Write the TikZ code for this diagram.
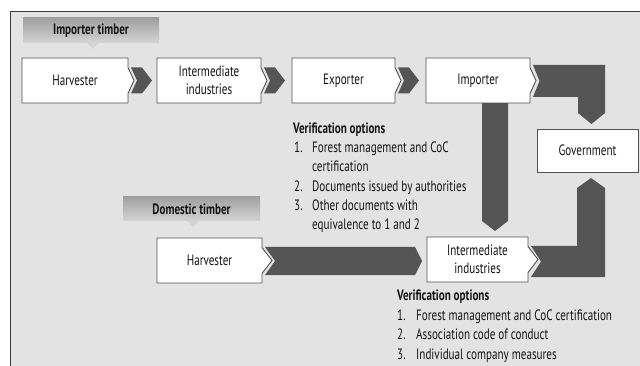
\documentclass[tikz,border=0pt]{standalone}
\usepackage{fontspec}
\setmainfont{PT Sans}[FakeStretch=0.74]
\definecolor{panel}{RGB}{227,227,227}
\definecolor{arrowc}{RGB}{85,85,85}
\definecolor{boxline}{RGB}{80,80,80}
\definecolor{framec}{RGB}{60,60,60}
\definecolor{labtop}{RGB}{160,160,160}
\definecolor{labbot}{RGB}{212,212,212}
\tikzset{
  boxst/.style={fill=white, draw=boxline, line width=0.9pt, line join=miter},
  arr/.style={fill=arrowc, draw=none},
  txt/.style={inner sep=0pt, font=\fontsize{15}{18}\selectfont, align=center, text=black!92},
  btxt/.style={txt, font=\fontsize{15}{18}\selectfont\bfseries},
  ltxt/.style={inner sep=0pt, anchor=west, font=\fontsize{15}{18}\selectfont, text=black!92, text height=10.5pt, text depth=3pt},
  lbtxt/.style={ltxt, font=\fontsize{15}{18}\selectfont\bfseries},
}
\newcommand\ptbox[8]{% name, x1, y1, x2, y2, d, h, text
  \pgfmathsetmacro\ym{(#3+#5)/2}
  \filldraw[boxst] (#2,#3) -- (#4,#3) -- (#4,\ym-#7) -- (#4+#6,\ym) -- (#4,\ym+#7) -- (#4,#5) -- (#2,#5) -- cycle;
  \node[txt] (#1) at ({(#2+#4)/2},\ym) {#8};
}
\newcommand\chev[3]{% x-left, ytop, ybot
  \pgfmathsetmacro\yc{(#2+#3)/2}
  \fill[arr] (#1,#2) -- (#1+11,#2) -- (#1+21,\yc) -- (#1+11,#3) -- (#1,#3) -- (#1+6,\yc) -- cycle;
}
\begin{document}
\begin{tikzpicture}[x=1pt,y=-1pt]
\useasboundingbox (0,0) rectangle (640,366);
\fill[white] (0,0) rectangle (640,366);
\fill[panel] (10,12) rectangle (640,366);
\draw[framec, line width=1pt] (10,366) -- (10,12) -- (640,12);

% labels
\shade[top color=labtop, bottom color=labbot] (23,18) rectangle (159,43);
\fill[labbot] (87,43) -- (99,43) -- (93,49) -- cycle;
\node[btxt] (imptimber) at (91,30.5) {Importer timber};
\shade[top color=labtop, bottom color=labbot] (123,197) rectangle (260,221);
\fill[labbot] (187,221) -- (199,221) -- (193,227) -- cycle;
\node[btxt] (domtimber) at (191.5,209) {Domestic timber};

% arrows (drawn before boxes)
\fill[arr] (482,100) -- (508,100) -- (508,221) -- (495,231) -- (482,221) -- cycle;
\fill[arr] (533,65) -- (605,65) -- (605,113) -- (591.5,124) -- (578,113) -- (578,97) -- (533,97) -- (539.5,81) -- cycle;
\fill[arr] (531,246) -- (577,246) -- (577,188) -- (591,178) -- (605,188) -- (605,277) -- (531,277) -- (541,261.5) -- cycle;
\fill[arr] (265,247) -- (415,247) -- (422,261) -- (415,275) -- (265,275) -- (275,261) -- cycle;

% row 1
\ptbox{harv1}{22}{58}{128}{103}{6}{13}{Harvester}
\chev{131}{67.5}{93.5}
\ptbox{inter1}{157}{58}{261}{103}{6}{13}{Intermediate\\industries}
\chev{264}{67.5}{93.5}
\ptbox{export}{292}{58}{395}{103}{6}{13}{Exporter}
\chev{398}{67.5}{93.5}
\ptbox{import}{426}{58}{530}{103}{6}{13}{Importer}

% government
\filldraw[boxst] (537,129) rectangle (638,172);
\node[txt] (gov) at (587.5,150.5) {Government};

% domestic row
\ptbox{harv2}{157}{238}{262}{283}{10}{13}{Harvester}
\ptbox{inter2}{427}{237}{528}{282}{10}{13}{Intermediate\\industries}

% verification 1
\node[lbtxt] (v1h) at (293,130) {Verification options};
\node[ltxt] (v1n1) at (294,149) {1.};
\node[ltxt] (v1t1) at (312,149) {Forest management and CoC};
\node[ltxt] (v1t1b) at (312,168) {certification};
\node[ltxt] (v1n2) at (294,188) {2.};
\node[ltxt] (v1t2) at (312,188) {Documents issued by authorities};
\node[ltxt] (v1n3) at (294,207) {3.};
\node[ltxt] (v1t3) at (312,207) {Other documents with};
\node[ltxt] (v1t3b) at (312,226) {equivalence to 1 and 2};

% verification 2
\node[lbtxt] (v2h) at (397,297) {Verification options};
\node[ltxt] (v2n1) at (397,317) {1.};
\node[ltxt] (v2t1) at (416,317) {Forest management and CoC certification};
\node[ltxt] (v2n2) at (397,336) {2.};
\node[ltxt] (v2t2) at (416,336) {Association code of conduct};
\node[ltxt] (v2n3) at (397,356) {3.};
\node[ltxt] (v2t3) at (416,356) {Individual company measures};
\end{tikzpicture}
\end{document}
